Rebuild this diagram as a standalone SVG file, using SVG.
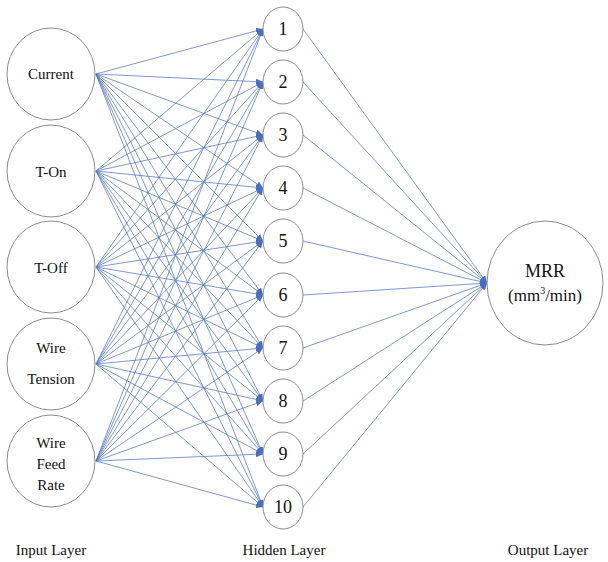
<svg xmlns="http://www.w3.org/2000/svg" width="608" height="562" viewBox="0 0 608 562">
<style>
.n{fill:#fff;stroke:#8c8c8c;stroke-width:1}
.t{font-family:'Liberation Serif','Times New Roman',Times,serif;fill:#111;text-anchor:middle}
.c line{stroke:#5577c2;stroke-width:0.9;stroke-opacity:0.85;marker-end:url(#a)}
</style>
<defs>
<marker id="a" markerUnits="userSpaceOnUse" markerWidth="7" markerHeight="6" refX="7" refY="3" orient="auto"><path d="M0,0 L7,3 L0,6 Z" fill="#4a6fc0"/></marker>
</defs>
<rect width="608" height="562" fill="#fff"/>
<g class="c">
<line x1="96" y1="74" x2="263" y2="29"/><line x1="96" y1="74" x2="263" y2="82"/><line x1="96" y1="74" x2="263" y2="135"/><line x1="96" y1="74" x2="263" y2="188"/><line x1="96" y1="74" x2="263" y2="241"/><line x1="96" y1="74" x2="263" y2="295"/><line x1="96" y1="74" x2="263" y2="348"/><line x1="96" y1="74" x2="263" y2="401"/><line x1="96" y1="74" x2="263" y2="454"/><line x1="96" y1="74" x2="263" y2="507"/>
<line x1="96" y1="171" x2="263" y2="29"/><line x1="96" y1="171" x2="263" y2="82"/><line x1="96" y1="171" x2="263" y2="135"/><line x1="96" y1="171" x2="263" y2="188"/><line x1="96" y1="171" x2="263" y2="241"/><line x1="96" y1="171" x2="263" y2="295"/><line x1="96" y1="171" x2="263" y2="348"/><line x1="96" y1="171" x2="263" y2="401"/><line x1="96" y1="171" x2="263" y2="454"/><line x1="96" y1="171" x2="263" y2="507"/>
<line x1="96" y1="267" x2="263" y2="29"/><line x1="96" y1="267" x2="263" y2="82"/><line x1="96" y1="267" x2="263" y2="135"/><line x1="96" y1="267" x2="263" y2="188"/><line x1="96" y1="267" x2="263" y2="241"/><line x1="96" y1="267" x2="263" y2="295"/><line x1="96" y1="267" x2="263" y2="348"/><line x1="96" y1="267" x2="263" y2="401"/><line x1="96" y1="267" x2="263" y2="454"/><line x1="96" y1="267" x2="263" y2="507"/>
<line x1="96" y1="364" x2="263" y2="29"/><line x1="96" y1="364" x2="263" y2="82"/><line x1="96" y1="364" x2="263" y2="135"/><line x1="96" y1="364" x2="263" y2="188"/><line x1="96" y1="364" x2="263" y2="241"/><line x1="96" y1="364" x2="263" y2="295"/><line x1="96" y1="364" x2="263" y2="348"/><line x1="96" y1="364" x2="263" y2="401"/><line x1="96" y1="364" x2="263" y2="454"/><line x1="96" y1="364" x2="263" y2="507"/>
<line x1="96" y1="461" x2="263" y2="29"/><line x1="96" y1="461" x2="263" y2="82"/><line x1="96" y1="461" x2="263" y2="135"/><line x1="96" y1="461" x2="263" y2="188"/><line x1="96" y1="461" x2="263" y2="241"/><line x1="96" y1="461" x2="263" y2="295"/><line x1="96" y1="461" x2="263" y2="348"/><line x1="96" y1="461" x2="263" y2="401"/><line x1="96" y1="461" x2="263" y2="454"/><line x1="96" y1="461" x2="263" y2="507"/>
<line x1="303" y1="29" x2="487" y2="283"/><line x1="303" y1="82" x2="487" y2="283"/><line x1="303" y1="135" x2="487" y2="283"/><line x1="303" y1="188" x2="487" y2="283"/><line x1="303" y1="241" x2="487" y2="283"/><line x1="303" y1="295" x2="487" y2="283"/><line x1="303" y1="348" x2="487" y2="283"/><line x1="303" y1="401" x2="487" y2="283"/><line x1="303" y1="454" x2="487" y2="283"/><line x1="303" y1="507" x2="487" y2="283"/>
</g>
<g id="in-current"><ellipse class="n" cx="51" cy="74" rx="44" ry="46"/><text class="t" x="51" y="79" font-size="15">Current</text></g>
<g id="in-ton"><ellipse class="n" cx="51" cy="171" rx="44" ry="46"/><text class="t" x="51" y="177" font-size="15">T-On</text></g>
<g id="in-toff"><ellipse class="n" cx="51" cy="267" rx="44" ry="46"/><text class="t" x="51" y="273" font-size="15">T-Off</text></g>
<g id="in-tension"><ellipse class="n" cx="51" cy="364" rx="44" ry="46"/><text class="t" x="51" y="353" font-size="15">Wire</text><text class="t" x="51" y="384" font-size="15">Tension</text></g>
<g id="in-feed"><ellipse class="n" cx="51" cy="461" rx="44" ry="46"/><text class="t" x="51" y="448" font-size="15">Wire</text><text class="t" x="51" y="469" font-size="15">Feed</text><text class="t" x="51" y="490" font-size="15">Rate</text></g>
<g id="h1"><ellipse class="n" cx="283" cy="29" rx="20" ry="22"/><text class="t" x="283" y="35" font-size="18">1</text></g>
<g id="h2"><ellipse class="n" cx="283" cy="82" rx="20" ry="22"/><text class="t" x="283" y="88" font-size="18">2</text></g>
<g id="h3"><ellipse class="n" cx="283" cy="135" rx="20" ry="22"/><text class="t" x="283" y="141" font-size="18">3</text></g>
<g id="h4"><ellipse class="n" cx="283" cy="188" rx="20" ry="22"/><text class="t" x="283" y="194" font-size="18">4</text></g>
<g id="h5"><ellipse class="n" cx="283" cy="241" rx="20" ry="22"/><text class="t" x="283" y="247" font-size="18">5</text></g>
<g id="h6"><ellipse class="n" cx="283" cy="295" rx="20" ry="22"/><text class="t" x="283" y="301" font-size="18">6</text></g>
<g id="h7"><ellipse class="n" cx="283" cy="348" rx="20" ry="22"/><text class="t" x="283" y="354" font-size="18">7</text></g>
<g id="h8"><ellipse class="n" cx="283" cy="401" rx="20" ry="22"/><text class="t" x="283" y="407" font-size="18">8</text></g>
<g id="h9"><ellipse class="n" cx="283" cy="454" rx="20" ry="22"/><text class="t" x="283" y="460" font-size="18">9</text></g>
<g id="h10"><ellipse class="n" cx="283" cy="507" rx="20" ry="22"/><text class="t" x="283" y="513" font-size="18">10</text></g>
<g id="out-mrr"><ellipse class="n" cx="545" cy="283" rx="58" ry="62"/><text class="t" x="545" y="277" font-size="18">MRR</text><text class="t" x="545" y="301" font-size="17">(mm<tspan font-size="10" dy="-7">3</tspan><tspan dy="7">/min)</tspan></text></g>
<g id="labels">
<text class="t" x="51" y="555" font-size="15">Input Layer</text>
<text class="t" x="284" y="555" font-size="15">Hidden Layer</text>
<text class="t" x="548" y="555" font-size="15">Output Layer</text>
</g>
</svg>
